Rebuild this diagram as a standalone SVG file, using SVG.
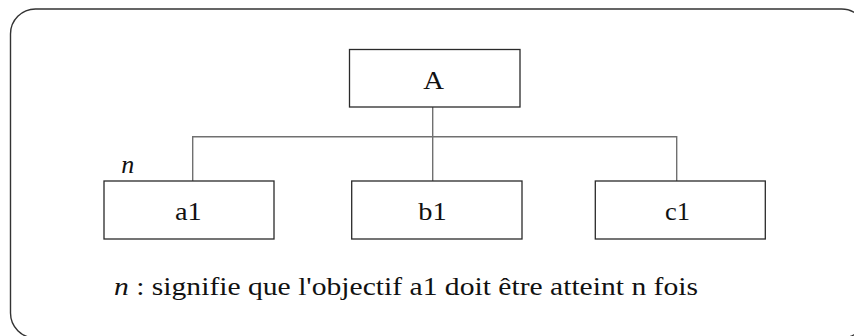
<svg xmlns="http://www.w3.org/2000/svg" width="854" height="336" viewBox="0 0 854 336">
  <style>
    .frame { fill: #ffffff; stroke: #333333; stroke-width: 1.4; }
    .box { fill: #ffffff; stroke: #2a2a2a; stroke-width: 1.3; }
    .conn { fill: none; stroke: #707070; stroke-width: 1.4; }
    .lbl { font-family: "Liberation Serif", "Times New Roman", serif; font-size: 26px; fill: #111111; }
    .it { font-style: italic; }
  </style>
  <rect width="854" height="336" fill="#ffffff"/>
  <rect class="frame" x="10.5" y="9" width="856" height="329" rx="25" ry="25"/>
  <g id="connectors">
    <path class="conn" d="M432.7 105 V181"/>
    <path class="conn" d="M192.7 181 V136.7 H676.7 V181"/>
  </g>
  <g id="node-A">
    <rect class="box" x="349.5" y="49.5" width="170.5" height="57.5"/>
    <text class="lbl" x="423.3" y="89.3" textLength="20.7" lengthAdjust="spacingAndGlyphs">A</text>
  </g>
  <g id="node-a1">
    <rect class="box" x="104" y="181" width="170" height="58"/>
    <text class="lbl" x="175" y="220.3" textLength="26.7" lengthAdjust="spacingAndGlyphs">a1</text>
    <text class="lbl it" x="121.3" y="173.3">n</text>
  </g>
  <g id="node-b1">
    <rect class="box" x="351.7" y="181" width="170.3" height="58"/>
    <text class="lbl" x="418.3" y="220.3" textLength="28.4" lengthAdjust="spacingAndGlyphs">b1</text>
  </g>
  <g id="node-c1">
    <rect class="box" x="595.3" y="181" width="170" height="58"/>
    <text class="lbl" x="665" y="220.3" textLength="25" lengthAdjust="spacingAndGlyphs">c1</text>
  </g>
  <g id="legend">
    <text class="lbl" x="114" y="295" textLength="584" lengthAdjust="spacingAndGlyphs" font-size="27"><tspan class="it">n</tspan> : signifie que l'objectif a1 doit être atteint n fois</text>
  </g>
</svg>
